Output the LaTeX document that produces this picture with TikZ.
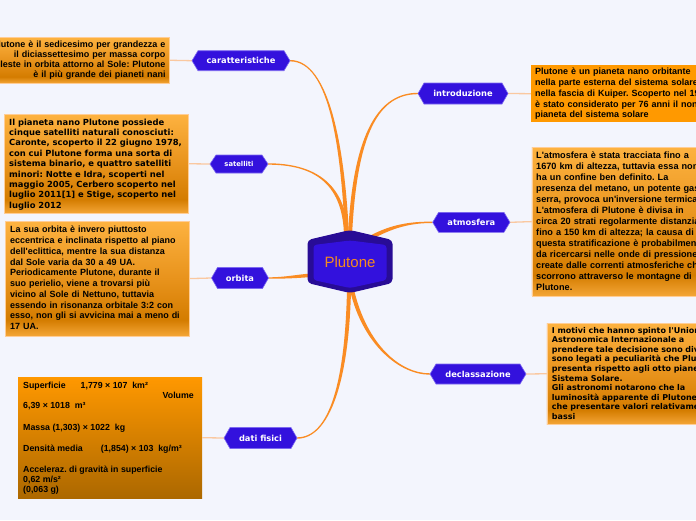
\documentclass[tikz,border=0pt]{standalone}
\usepackage{fontspec}
\newfontfamily\lsans{Liberation Sans}
\newfontfamily\dvs{DejaVu Sans}
\usetikzlibrary{calc}
\frenchspacing
\pgfdeclarelayer{background}
\pgfdeclarelayer{links}
\pgfsetlayers{background,links,main}
\definecolor{bg}{RGB}{243,245,253}
\definecolor{hexblue}{RGB}{51,17,221}
\definecolor{hexedge}{RGB}{125,105,240}
\definecolor{coreedge}{RGB}{40,12,150}
\definecolor{linkorange}{RGB}{250,140,35}
\definecolor{thinorange}{RGB}{250,200,160}
\definecolor{gt}{RGB}{253,178,64}
\definecolor{gm}{RGB}{232,147,28}
\definecolor{gd}{RGB}{212,124,0}
\definecolor{gb}{RGB}{244,166,55}
\definecolor{boxedge}{RGB}{255,205,150}
\definecolor{boxorange}{RGB}{255,153,0}
\definecolor{dtop}{RGB}{255,152,0}
\definecolor{dbot}{RGB}{172,104,0}
\definecolor{plutext}{RGB}{245,140,30}
\pgfdeclareverticalshading{gloss}{100bp}{color(0bp)=(gb); color(25bp)=(gb); color(32bp)=(gd); color(50bp)=(gm); color(75bp)=(gt); color(100bp)=(gt)}
\newcommand\fs{\rule{0pt}{1em}}
\newcommand\hexnode[6]{%
  \path[hexfill] ({#2-#4/2},#3) -- ({#2-#4/2+6},{#3-#5/2}) -- ({#2+#4/2-6},{#3-#5/2}) -- ({#2+#4/2},#3) -- ({#2+#4/2-6},{#3+#5/2}) -- ({#2-#4/2+6},{#3+#5/2}) -- cycle;
  \node[branch, minimum width=#4pt, minimum height=#5pt] (#1) at (#2,#3) {#6};}
\newcommand\taper[6]{%
  \fill[mainlink] ($(#1)!#5!90:(#2)$) .. controls ($(#2)!#5!-90:(#1)$) and ($(#3)!#6!90:(#4)$) .. ($(#4)!#6!-90:(#3)$) -- ($(#4)!#6!90:(#3)$) .. controls ($(#3)!#6!-90:(#4)$) and ($(#2)!#5!90:(#1)$) .. ($(#1)!#5!-90:(#2)$) -- cycle;}
\tikzset{
  branch/.style={text=white, font=\dvs\bfseries\fontsize{8.3pt}{10pt}\selectfont, inner sep=0pt},
  hexfill/.style={fill=hexblue, draw=hexedge, line width=0.6pt},
  glossbox/.style={shading=gloss, draw=boxedge, line width=0.5pt, inner sep=0pt, anchor=north west},
  flatbox/.style={fill=boxorange, inner sep=0pt, anchor=north west},
  databox/.style={top color=dtop, bottom color=dbot, inner sep=0pt, anchor=north west},
  thinlink/.style={draw=thinorange, line width=1.3pt},
  mainlink/.style={fill=linkorange},
  textblock/.style={inner sep=0pt, align=left, text width=300pt, anchor=north west},
  dataline/.style={inner sep=0pt, anchor=base west, font=\lsans\bfseries\fontsize{8.8pt}{10pt}\selectfont},
  corelabel/.style={inner sep=0pt, text=plutext, font=\lsans\fontsize{15pt}{18pt}\selectfont}
}
\begin{document}
\begin{tikzpicture}[x=1pt,y=-1pt]
\useasboundingbox (0,0) rectangle (696,520);
\begin{pgfonlayer}{background}
\fill[bg] (0,0) rectangle (696,520);
\end{pgfonlayer}
\clip (0,0) rectangle (696,520);

% branch nodes
\hexnode{car}{241}{60.7}{98}{20}{caratteristiche}
\hexnode{sat}{239}{164}{58}{18}{\fontsize{6.8pt}{8pt}\selectfont satelliti}
\hexnode{orb}{240}{278}{57}{21}{orbita}
\hexnode{dat}{260.5}{438}{73}{21}{dati fisici}
\hexnode{int}{463}{93.5}{90}{21}{introduzione}
\hexnode{atm}{471.3}{222.3}{77.3}{20}{atmosfera}
\hexnode{dec}{478}{374}{96}{20}{declassazione}

% central node
\path[fill=coreedge, rounded corners=4pt] (307.5,240) -- (350,230) -- (392.5,240) -- (392.5,283) -- (350,293) -- (307.5,283) -- cycle;
\path[fill=hexblue, rounded corners=3pt] (313.5,245) -- (350,240.5) -- (386.5,245) -- (386.5,280) -- (350,288) -- (313.5,280) -- cycle;
\node[corelabel] (core) at (350,262) {Plutone};
\coordinate (ctop) at ($(core)+(-3,-26)$);
\coordinate (ctopb) at ($(core)+(-4,-26)$);
\coordinate (ctopr) at ($(core)+(0,-26)$);
\coordinate (catm) at ($(core)+(20,-24)$);
\coordinate (corb) at ($(core)+(-36,13)$);
\coordinate (cbot) at ($(core)+(-1,28)$);
\coordinate (cbotr) at ($(core)+(2,28)$);

% text boxes
\node[glossbox, minimum width=189pt, minimum height=46pt] (carbox) at (-20,37) {};
\node[glossbox, minimum width=184pt, minimum height=99pt] (satbox) at (4,114) {};
\node[glossbox, minimum width=184pt, minimum height=114.7pt] (orbbox) at (5,221) {};
\node[databox, minimum width=184pt, minimum height=121pt] (datbox) at (18,377) {};
\node[flatbox, minimum width=190pt, minimum height=57pt] (intbox) at (531,65) {};
\node[glossbox, minimum width=190pt, minimum height=148.7pt] (atmbox) at (531.7,147) {};
\node[glossbox, minimum width=180pt, minimum height=101pt] (decbox) at (546.7,323) {};

% links
\begin{pgfonlayer}{links}
\taper{ctop}{343,150}{330,60.7}{car.east}{2pt}{0.7pt}
\taper{ctopb}{345,180}{310,164}{sat.east}{2pt}{0.7pt}
\taper{ctopr}{355,130}{380,93.5}{int.west}{2pt}{0.7pt}
\taper{catm}{392,226}{410,222.3}{atm.west}{2pt}{0.7pt}
\taper{corb}{295,276.5}{285,278}{orb.east}{1.8pt}{0.7pt}
\taper{cbot}{347,380}{330,438}{dat.east}{2pt}{0.7pt}
\taper{cbotr}{365,345}{400,374}{dec.west}{2pt}{0.7pt}
\draw[thinlink] (car.west) -- (carbox.east);
\draw[thinlink] (sat.west) -- (satbox.east);
\draw[thinlink] (orb.west) -- (orbbox.east);
\draw[thinlink] (dat.west) -- (datbox.east);
\draw[thinlink] (int.east) -- (intbox.west);
\draw[thinlink] (atm.east) -- (atmbox.west);
\draw[thinlink] (dec.east) -- (decbox.west);
\end{pgfonlayer}

% texts
\node[textblock, align=right, anchor=north east, font=\lsans\bfseries\fontsize{9pt}{10pt}\selectfont] (cartext) at (165.7,38.7)
 {\fs Plutone è il sedicesimo per grandezza e\\il diciassettesimo per massa corpo\\celeste in orbita attorno al Sole: Plutone\\è il più grande dei pianeti nani};
\node[textblock, font=\dvs\bfseries\fontsize{8.4pt}{10.4pt}\selectfont] (sattext) at (9,116.4)
 {\fs Il pianeta nano Plutone possiede\\cinque satelliti naturali conosciuti:\\Caronte, scoperto il 22 giugno 1978,\\con cui Plutone forma una sorta di\\sistema binario, e quattro satelliti\\minori: Notte e Idra, scoperti nel\\maggio 2005, Cerbero scoperto nel\\luglio 2011[1] e Stige, scoperto nel\\luglio 2012};
\node[textblock, font=\lsans\bfseries\fontsize{9pt}{10.74pt}\selectfont] (orbtext) at (10,223.7)
 {\fs La sua orbita è invero piuttosto\\eccentrica e inclinata rispetto al piano\\dell'eclittica, mentre la sua distanza\\dal Sole varia da 30 a 49 UA.\\Periodicamente Plutone, durante il\\suo perielio, viene a trovarsi più\\vicino al Sole di Nettuno, tuttavia\\essendo in risonanza orbitale 3:2 con\\esso, non gli si avvicina mai a meno di\\17 UA.};
\node[textblock, font=\lsans\bfseries\fontsize{9pt}{10.8pt}\selectfont] (inttext) at (535,65.4)
 {\fs Plutone è un pianeta nano orbitante\\nella parte esterna del sistema solare,\\nella fascia di Kuiper. Scoperto nel 1930,\\è stato considerato per 76 anni il nono\\pianeta del sistema solare};
\node[textblock, font=\lsans\bfseries\fontsize{9.15pt}{11pt}\selectfont] (atmtext) at (536,149.3)
 {\fs L'atmosfera è stata tracciata fino a\\1670 km di altezza, tuttavia essa non\\ha un confine ben definito. La\\presenza del metano, un potente gas\\serra, provoca un'inversione termica.\\L'atmosfera di Plutone è divisa in\\circa 20 strati regolarmente distanziati\\fino a 150 km di altezza; la causa di\\questa stratificazione è probabilmente\\da ricercarsi nelle onde di pressione\\create dalle correnti atmosferiche che\\scorrono attraverso le montagne di\\Plutone.};
\node[textblock, font=\dvs\bfseries\fontsize{8pt}{9.55pt}\selectfont] (dectext) at (551.7,325.1)
 {\fs I motivi che hanno spinto l'Unione\\Astronomica Internazionale a\\prendere tale decisione sono diversi e\\sono legati a peculiarità che Plutone\\presenta rispetto agli otto pianeti del\\Sistema Solare.\\Gli astronomi notarono che la\\luminosità apparente di Plutone,\\che presentare valori relativamente\\bassi};

% dati fisici
\node[dataline] (d1) at (23,388.2) {Superficie\hspace{15pt}1,779 × 107\ \ km²};
\node[dataline, anchor=base east] (d2) at (194,398.2) {Volume};
\node[dataline] (d3) at (23,408.2) {6,39 × 1018\ \ m³};
\node[dataline] (d4) at (23,430.2) {Massa (1,303) × 1022\ \ kg};
\node[dataline] (d5) at (23,451.2) {Densità media\hspace{18pt}(1,854) × 103\ \ kg/m³};
\node[dataline] (d6) at (23,472.2) {Acceleraz. di gravità in superficie};
\node[dataline] (d7) at (23,482.2) {0,62 m/s²};
\node[dataline] (d8) at (23,492.2) {(0,063 g)};
\end{tikzpicture}
\end{document}
